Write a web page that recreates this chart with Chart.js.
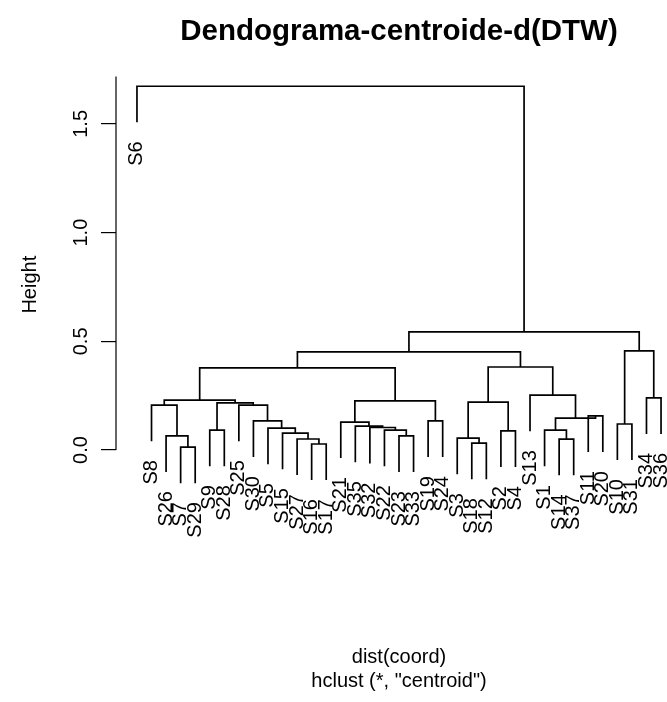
<!DOCTYPE html>
<html>
<head>
<meta charset="utf-8">
<script src="https://cdn.jsdelivr.net/npm/chart.js@4.4.0/dist/chart.umd.min.js"></script>
<style>
  html, body { margin: 0; padding: 0; background: #fff; overflow: hidden; }
  #wrap { width: 682px; height: 702px; }
</style>
</head>
<body>
<div id="wrap"><canvas id="dendro"></canvas></div>
<script>
// leaves, left to right as they hang in the tree
const leafLabels = ["S6", "S8", "S26", "S7", "S29", "S9", "S28", "S25", "S30", "S5",
  "S15", "S27", "S16", "S17", "S21", "S35", "S32", "S22", "S23", "S33",
  "S19", "S24", "S3", "S18", "S12", "S2", "S4", "S13", "S1", "S14",
  "S37", "S11", "S20", "S10", "S31", "S34", "S36"];

// merges like hclust$merge: negative = leaf position (1-based), positive = earlier merge row
const mergeLeft  = [-4, -3, -2, -6, -13, -12, -11, -10, -9, -8, 4, 3, -19, -18, -17, -16, -15, -21,
  17, 12, -24, -23, -26, 22, -30, -29, -32, 26, -28, 24, 20, -34, -36, 32, 31, -1];
const mergeRight = [-5, 1, 2, -7, -14, 5, 6, 7, 8, 9, 10, 11, -20, 13, 14, 15, 16, -22,
  18, 19, -25, 21, -27, 23, -31, 25, -33, 27, 28, 29, 30, -35, -37, 33, 34, 35];
const mergeHeight = [0.014, 0.065, 0.207, 0.092, 0.028, 0.051, 0.078, 0.101, 0.134, 0.207, 0.217, 0.230,
  0.065, 0.092, 0.104, 0.110, 0.129, 0.134, 0.226, 0.378,
  0.032, 0.055, 0.088, 0.221, 0.050, 0.092, 0.157, 0.147, 0.253, 0.382, 0.452,
  0.120, 0.240, 0.456, 0.544, 1.673];

const yTicks = [0, 0.5, 1.0, 1.5];
const yTickLabels = ["0.0", "0.5", "1.0", "1.5"];

const FONT = "'Liberation Sans', Arial, Helvetica, sans-serif";

// build the tree shape like plot.hclust (hang = 0.1)
const hang = 0.1 * (Math.max(...mergeHeight) - Math.min(...mergeHeight));
const nodeX = [];
const leafBottom = [];
const segments = [];
mergeLeft.forEach((a, k) => {
  const h = mergeHeight[k];
  const ends = [a, mergeRight[k]].map(c => {
    if (c < 0) {
      leafBottom[-c - 1] = h - hang;
      return { x: -c, y: h - hang };
    }
    return { x: nodeX[c - 1], y: mergeHeight[c - 1] };
  });
  nodeX.push((ends[0].x + ends[1].x) / 2);
  segments.push([ends[0], { x: ends[0].x, y: h }, { x: ends[1].x, y: h }, ends[1]]);
});

const n = leafLabels.length;
const yLo = Math.min(...leafBottom), yHi = Math.max(...mergeHeight);
const yExt = 0.04 * (yHi - yLo);
const xExt = 0.04 * (n - 1);

// leaf names, rotated, hanging under each leaf
const leafText = {
  id: "leafText",
  afterDatasetsDraw(chart) {
    const { ctx, scales: { x, y } } = chart;
    ctx.save();
    ctx.fillStyle = "#000";
    ctx.font = "20px " + FONT;
    ctx.textAlign = "right";
    ctx.textBaseline = "middle";
    leafLabels.forEach((lab, i) => {
      ctx.save();
      ctx.translate(x.getPixelForValue(i + 1), y.getPixelForValue(leafBottom[i]) + 19);
      ctx.rotate(-Math.PI / 2);
      ctx.fillText(lab, 0, 0);
      ctx.restore();
    });
    ctx.restore();
  }
};

// R style axis line
const axisLine = {
  id: "axisLine",
  afterDraw(chart) {
    const { ctx, chartArea } = chart;
    const y = chart.scales.y;
    ctx.save();
    ctx.strokeStyle = "#000";
    ctx.lineWidth = 1.2;
    ctx.beginPath();
    ctx.moveTo(y.right, y.getPixelForValue(yTicks[0]));
    ctx.lineTo(y.right, chartArea.top + 6);
    ctx.stroke();
    ctx.restore();
  }
};

new Chart(document.getElementById("dendro"), {
  type: "scatter",
  data: {
    datasets: segments.map(pts => ({
      data: pts,
      showLine: true,
      borderColor: "#000",
      borderWidth: 1.7,
      pointRadius: 0,
      fill: false,
      tension: 0
    }))
  },
  options: {
    responsive: true,
    maintainAspectRatio: false,
    animation: false,
    layout: { padding: 0 },
    plugins: {
      legend: { display: false },
      tooltip: { enabled: false },
      title: {
        display: true,
        text: "Dendograma-centroide-d(DTW)",
        fullSize: false,
        color: "#000",
        font: { family: FONT, size: 29.5, weight: "bold", lineHeight: 1.2 },
        padding: { top: 14, bottom: 21 }
      },
      subtitle: {
        display: true,
        position: "bottom",
        fullSize: false,
        text: ["dist(coord)", 'hclust (*, "centroid")'],
        color: "#000",
        font: { family: FONT, size: 20, lineHeight: 1.2 },
        padding: { top: 146, bottom: 9 }
      }
    },
    scales: {
      x: { type: "linear", display: false, min: 1 - xExt, max: n + xExt },
      y: {
        type: "linear",
        min: yLo - yExt,
        max: yHi + yExt,
        afterBuildTicks: s => { s.ticks = yTicks.map(v => ({ value: v })); },
        afterFit: s => { s.width = 116; },
        border: { display: false },
        grid: { drawOnChartArea: false, drawTicks: true, tickLength: 15, color: "#000", lineWidth: 1.2 },
        ticks: {
          minRotation: 90,
          maxRotation: 90,
          crossAlign: "center",
          padding: 6,
          color: "#000",
          font: { family: FONT, size: 20 },
          callback: (v, i) => yTickLabels[i]
        },
        title: {
          display: true,
          text: "Height",
          color: "#000",
          font: { family: FONT, size: 20 },
          padding: { top: 18, bottom: 0 }
        }
      }
    }
  },
  plugins: [leafText, axisLine]
});
</script>
</body>
</html>
